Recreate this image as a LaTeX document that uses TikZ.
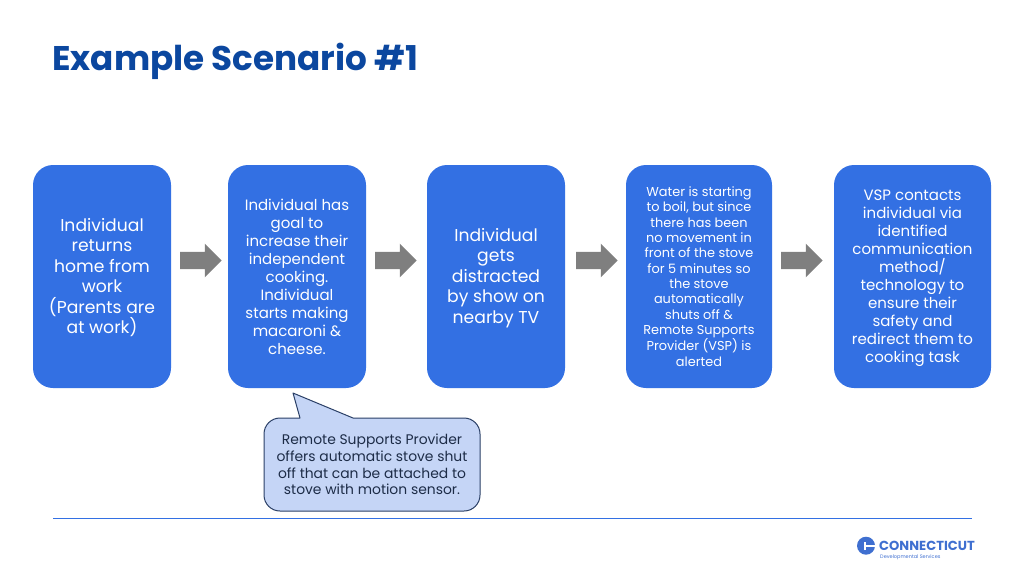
\documentclass[tikz,border=0pt]{standalone}
\usepackage{fontspec}
\setmainfont{Poppins}
\usetikzlibrary{shapes.arrows}
\definecolor{boxblue}{HTML}{3370E3}
\definecolor{titleblue}{HTML}{0B479F}
\definecolor{calloutfill}{HTML}{C5D5F6}
\definecolor{calloutline}{HTML}{2A3F66}
\definecolor{arrowgray}{HTML}{7F7F7F}
\definecolor{logoblue}{HTML}{3F6FD0}
\tikzset{
  stepbox/.style={fill=boxblue,rounded corners=20pt,minimum height=223pt,inner sep=0pt,text=white,align=center,anchor=center},
  bigtxt/.style={font=\fontsize{17.2}{20.5}\selectfont},
  midtxt/.style={font=\fontsize{15}{18}\selectfont},
  smalltxt/.style={font=\fontsize{12.9}{15.35}\selectfont},
  blockarrow/.style={single arrow,fill=arrowgray,draw=none,minimum height=41.5pt,single arrow head extend=8.2pt,single arrow tip angle=90,inner sep=8.4pt},
}
\begin{document}
\begin{tikzpicture}[x=1pt,y=-1pt]
\useasboundingbox (0,0) rectangle (1024,576);
\node[anchor=west,font=\fontsize{34.2}{36}\selectfont\bfseries,text=titleblue,inner sep=0pt] (title) at (52,61) {Example Scenario \#1};
\node[stepbox,minimum width=138pt] (b1) at (102,276.5) {};
\node[stepbox,minimum width=138pt] (b2) at (297,276.5) {};
\node[stepbox,minimum width=138pt] (b3) at (496,276.5) {};
\node[stepbox,minimum width=146pt] (b4) at (699,276.5) {};
\node[stepbox,minimum width=157pt] (b5) at (912.5,276.5) {};
\node[bigtxt,text=white,align=center,inner sep=0pt] (t1) at (102,277.5) {Individual\\returns\\home from\\work\\(Parents are\\at work)};
\node[midtxt,text=white,align=center,inner sep=0pt] (t2) at (297,276.5) {Individual has\\goal to\\increase their\\independent\\cooking.\\Individual\\starts making\\macaroni \&\\cheese.};
\node[bigtxt,text=white,align=center,inner sep=0pt] (t3) at (496,278) {Individual\\gets\\distracted\\by show on\\nearby TV};
\node[smalltxt,text=white,align=center,inner sep=0pt] (t4) at (699,276.5) {Water is starting\\to boil, but since\\there has been\\no movement in\\front of the stove\\for 5 minutes so\\the stove\\automatically\\shuts off \&\\Remote Supports\\Provider (VSP) is\\alerted};
\node[midtxt,text=white,align=center,inner sep=0pt] (t5) at (912.5,278.5) {VSP contacts\\individual via\\identified\\communication\\method/\\technology to\\ensure their\\safety and\\redirect them to\\cooking task};
\node[blockarrow] (a1) at (196.5,260.5) {};
\node[blockarrow] (a2) at (391.5,260.5) {};
\node[blockarrow] (a3) at (592.5,260.5) {};
\node[blockarrow] (a4) at (797.5,260.5) {};
\draw[fill=calloutfill,draw=calloutline,line width=1pt,line join=round]
  (280,418) -- (300,418) -- (293,393) -- (353,418) -- (464,418)
  arc[start angle=-90,end angle=0,radius=16] -- (480,495)
  arc[start angle=0,end angle=90,radius=16] -- (280,511)
  arc[start angle=90,end angle=180,radius=16] -- (264,434)
  arc[start angle=180,end angle=270,radius=16] -- cycle;
\node[align=center,text=calloutline!70!black,font=\fontsize{13.9}{16.6}\selectfont,inner sep=0pt] (note) at (372,464.5) {Remote Supports Provider\\offers automatic stove shut\\off that can be attached to\\stove with motion sensor.};
\coordinate (ruleL) at (53,518);
\coordinate (ruleR) at (972,518);
\draw[boxblue,line width=1pt] (ruleL) -- (ruleR);
\fill[logoblue] (866,545.7) circle[radius=9];
\fill[white] (863.5,541.5) rectangle (866,550);
\fill[white] (866,544.5) rectangle (876,547);
\node[anchor=west,inner sep=0pt,text=logoblue,font=\fontsize{13.1}{14}\selectfont\bfseries] (logo) at (879,546) {CONNECTICUT};
\node[anchor=west,inner sep=0pt,text=logoblue,font=\fontsize{5}{6}\selectfont] (logosub) at (880,557.5) {Developmental Services};
\end{tikzpicture}
\end{document}
